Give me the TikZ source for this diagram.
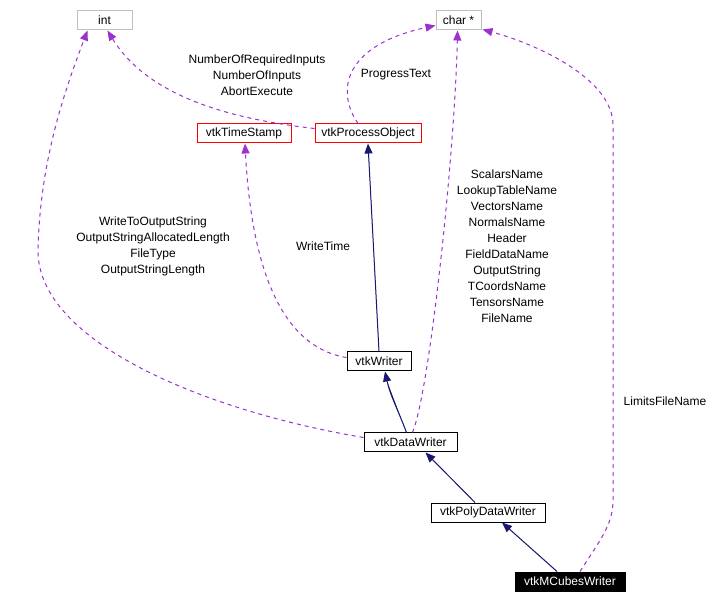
\documentclass[tikz,border=0pt]{standalone}
\usepackage{fontspec}
\setmainfont{Liberation Sans}
\usepackage{xcolor}
\usetikzlibrary{arrows.meta,calc}
\definecolor{usepurple}{HTML}{9A32CD}
\definecolor{inhnavy}{HTML}{191970}
\definecolor{extgray}{HTML}{BFBFBF}
\newcommand{\dgfont}{\fontsize{9}{12}\selectfont}
\tikzset{
  cls/.style={rectangle, draw=black, fill=white, line width=0.75pt,
              minimum height=14.25pt, inner sep=1pt, font=\dgfont},
  extcls/.style={cls, draw=extgray},
  redcls/.style={cls, draw=red},
  curcls/.style={cls, fill=black, text=white},
  lbl/.style={align=center, inner sep=0pt, font=\dgfont},
  inherit/.style={-{Triangle[length=7.5pt,width=6pt]}, draw=inhnavy, fill=inhnavy, line width=0.75pt},
  usage/.style={-{Triangle[length=7.5pt,width=6pt]}, draw=usepurple, line width=0.75pt,
                dash pattern=on 3pt off 3pt},
}

\begin{document}
\begin{tikzpicture}[x=0.75pt, y=-0.75pt]
\path[fill=white, use as bounding box] (0,0) rectangle (717,605);

% classes
\node[extcls, minimum width=41.25pt] (int) at (104.5,20.5) {int};
\node[extcls, minimum width=33.75pt] (cs) at (458.5,20.5) {char *};
\node[redcls, minimum width=70.5pt] (ts) at (244,133.5) {vtkTimeStamp};
\node[redcls, minimum width=79.5pt] (po) at (368,133.5) {vtkProcessObject};
\node[cls, minimum width=48pt] (wr) at (379,361.5) {vtkWriter};
\node[cls, minimum width=69.75pt] (dw) at (410.5,442.5) {vtkDataWriter};
\node[cls, minimum width=85.5pt] (pdw) at (488,512.5) {vtkPolyDataWriter};
\node[curcls, minimum width=82.5pt] (mcw) at (570,581.5) {vtkMCubesWriter};

% member labels
\node[lbl] (point) at (257,75) {NumberOfRequiredInputs\\NumberOfInputs\\AbortExecute};
\node[lbl] (pochar) at (396,75) {ProgressText};
\node[lbl] (dwint) at (153,246) {WriteToOutputString\\OutputStringAllocatedLength\\FileType\\OutputStringLength};
\node[lbl] (wrts) at (323,246) {WriteTime};
\node[lbl] (dwchar) at (507,246) {ScalarsName\\LookupTableName\\VectorsName\\NormalsName\\Header\\FieldDataName\\OutputString\\TCoordsName\\TensorsName\\FileName};
\node[lbl] (mcchar) at (665,401) {LimitsFileName};

% inheritance
\draw[inherit] (wr.north) -- (po.south);
\draw[inherit] ($(dw.north)+(-4,0)$) .. controls (398,410) and (390,395) .. ($(wr.south)+(6,0)$);
\draw[inherit] ($(pdw.north)+(-13,0)$) -- ($(dw.south)+(15,0)$);
\draw[inherit] ($(mcw.north)+(-13,0)$) -- ($(pdw.south)+(14,0)$);

% usage
\draw[usage] ($(po.west)+(0,-5)$) .. controls (240,120) and (150,100) .. ($(int.south)+(3,0)$);
\draw[usage] ($(po.north)+(-10,0)$) .. controls (335,90) and (345,45) .. ($(cs.west)+(0,5)$);
\draw[usage] ($(dw.west)+(0,-5)$) .. controls (200,410) and (37,340) .. (38,250)
  .. controls (40,160) and (65,90) .. ($(int.south)+(-17,0)$);
\draw[usage] ($(wr.west)+(0,-4)$) .. controls (270,345) and (250,240) .. ($(ts.south)+(1,0)$);
\draw[usage] ($(dw.north)+(2,0)$) .. controls (430,390) and (455,150) .. ($(cs.south)+(-1,0)$);
\draw[usage] ($(mcw.north)+(10,0)$) .. controls (600,540) and (613,525) .. (613,500)
  -- (613,125) .. controls (613,80) and (540,45) .. ($(cs.south east)+(1,-1)$);
\end{tikzpicture}
\end{document}
